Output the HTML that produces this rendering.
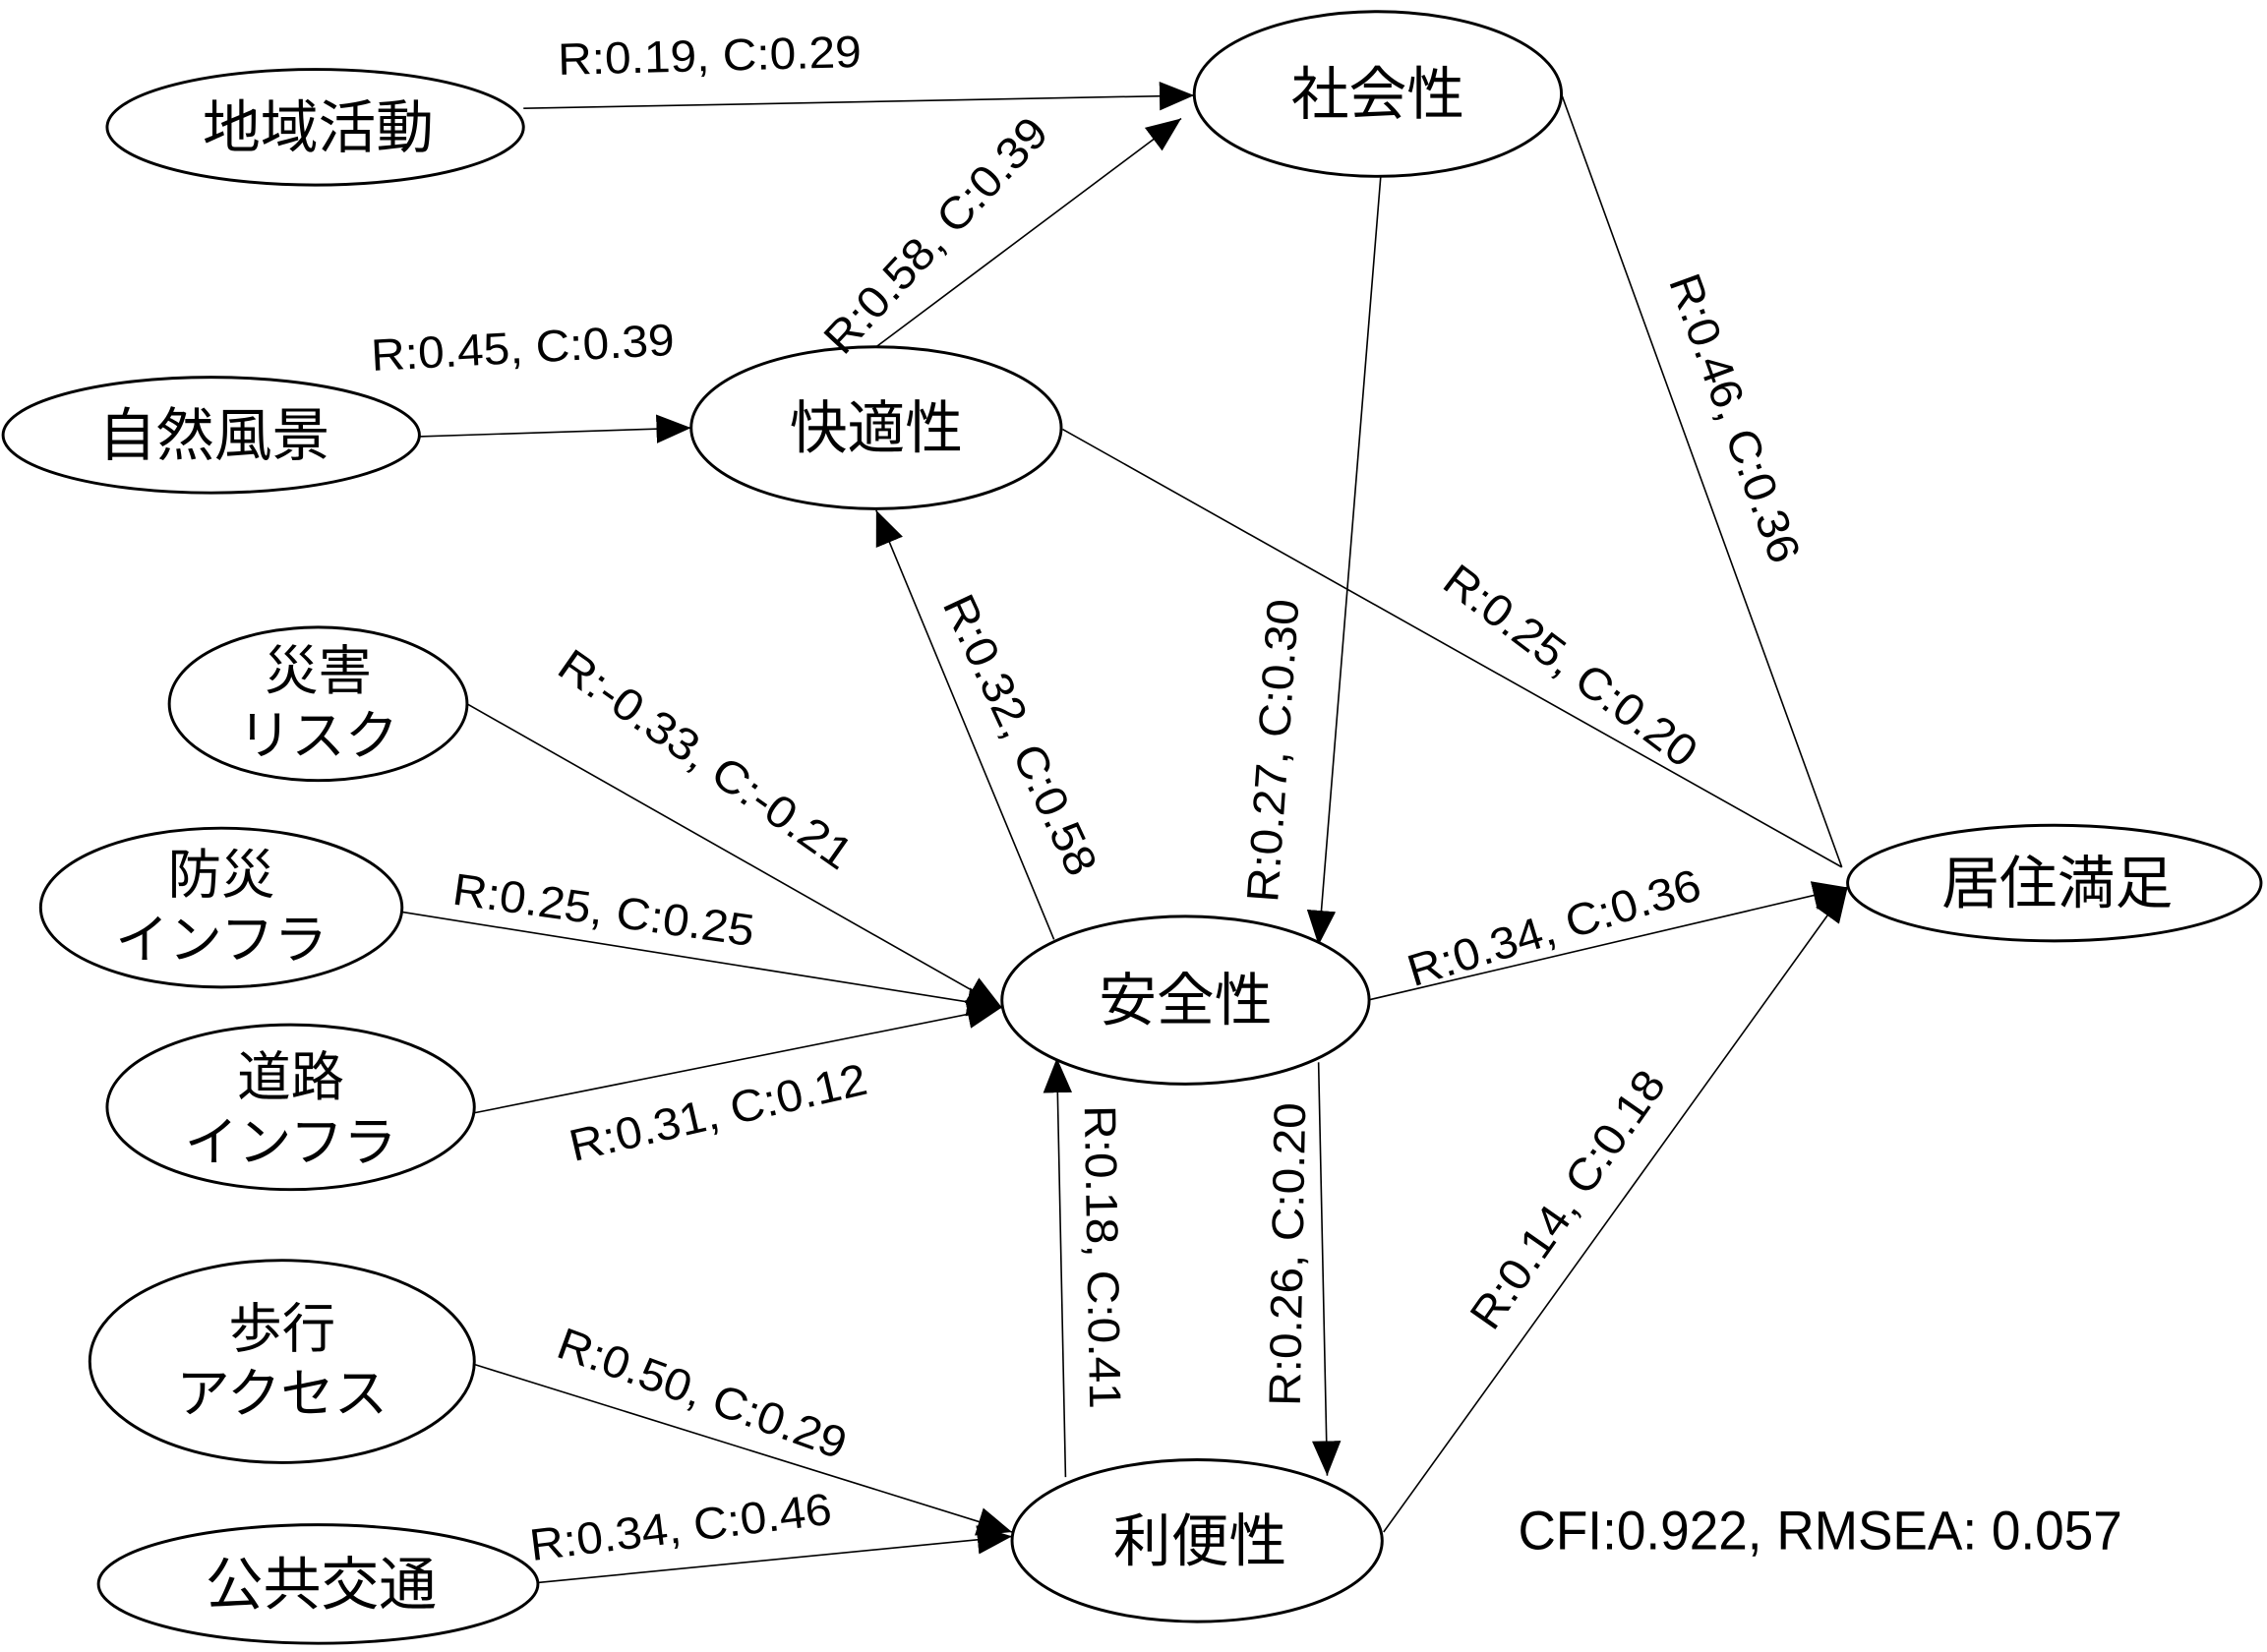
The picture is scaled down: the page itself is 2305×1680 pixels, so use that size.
<!DOCTYPE html>
<html><head><meta charset="utf-8"><style>
html,body{margin:0;padding:0;background:#fff;}
svg{display:block;}
text{font-family:"Liberation Sans","Noto Sans CJK JP",sans-serif;fill:#000;}
</style></head><body>
<svg width="2305" height="1680" viewBox="0 0 1568 1143" xmlns="http://www.w3.org/2000/svg">
<defs>
<marker id="a" markerUnits="userSpaceOnUse" markerWidth="26" markerHeight="20" refX="24" refY="10" orient="auto">
<path d="M0,0 L24,10 L0,20 Z" fill="#000"/>
</marker>
</defs>
<g fill="none" stroke="#000" stroke-width="1.1">
<line x1="362" y1="75" x2="826" y2="66" marker-end="url(#a)"/>
<line x1="606" y1="240" x2="817" y2="82" marker-end="url(#a)"/>
<line x1="290" y1="302" x2="478" y2="296" marker-end="url(#a)"/>
<line x1="955" y1="122" x2="912" y2="654" marker-end="url(#a)"/>
<line x1="1080" y1="65" x2="1274" y2="600"/>
<line x1="735" y1="297" x2="1274" y2="600"/>
<line x1="729" y1="650" x2="606" y2="353" marker-end="url(#a)"/>
<line x1="323" y1="487" x2="693" y2="697" marker-end="url(#a)"/>
<line x1="278" y1="631" x2="693" y2="697" marker-end="url(#a)"/>
<line x1="328" y1="770" x2="693" y2="697" marker-end="url(#a)"/>
<line x1="946" y1="692" x2="1278" y2="614" marker-end="url(#a)"/>
<line x1="912" y1="735" x2="918" y2="1021" marker-end="url(#a)"/>
<line x1="737" y1="1022" x2="731" y2="732" marker-end="url(#a)"/>
<line x1="957" y1="1060" x2="1278" y2="614" marker-end="url(#a)"/>
<line x1="328" y1="944" x2="700" y2="1060" marker-end="url(#a)"/>
<line x1="372" y1="1095" x2="700" y2="1063" marker-end="url(#a)"/>
</g>
<g fill="#fff" stroke="#000" stroke-width="2">
<ellipse cx="218" cy="88" rx="144" ry="40"/>
<ellipse cx="953" cy="65" rx="127" ry="57"/>
<ellipse cx="146" cy="301" rx="144" ry="40"/>
<ellipse cx="606" cy="296" rx="128" ry="56"/>
<ellipse cx="220" cy="487" rx="103" ry="53"/>
<ellipse cx="153" cy="628" rx="125" ry="55"/>
<ellipse cx="201" cy="766" rx="127" ry="57"/>
<ellipse cx="820" cy="692" rx="127" ry="58"/>
<ellipse cx="1421" cy="611" rx="143" ry="40"/>
<ellipse cx="195" cy="942" rx="133" ry="70"/>
<ellipse cx="220" cy="1096" rx="152" ry="41"/>
<ellipse cx="828" cy="1066" rx="128" ry="56"/>
</g>
<g font-size="40" text-anchor="middle">
<text x="220" y="102">地域活動</text>
<text x="953" y="79">社会性</text>
<text x="148" y="315">自然風景</text>
<text x="606" y="310">快適性</text>
<text x="820" y="706">安全性</text>
<text x="1423" y="625">居住満足</text>
<text x="222" y="1110">公共交通</text>
<text x="830" y="1080">利便性</text>
</g>
<g font-size="37" text-anchor="middle">
<text x="220" y="477">災害</text><text x="220" y="522">リスク</text>
<text x="153" y="618">防災</text><text x="153" y="663">インフラ</text>
<text x="201" y="758">道路</text><text x="201" y="803">インフラ</text>
<text x="195" y="932">歩行</text><text x="195" y="977">アクセス</text>
</g>
<g font-size="31" text-anchor="middle">
<text transform="translate(491,49) rotate(-1.5)" textLength="210" lengthAdjust="spacingAndGlyphs">R:0.19, C:0.29</text>
<text transform="translate(655,170) rotate(-47)" textLength="210" lengthAdjust="spacingAndGlyphs">R:0.58, C:0.39</text>
<text transform="translate(362,251) rotate(-3)" textLength="210" lengthAdjust="spacingAndGlyphs">R:0.45, C:0.39</text>
<text transform="translate(482,534) rotate(35)" textLength="240" lengthAdjust="spacingAndGlyphs">R:-0.33, C:-0.21</text>
<text transform="translate(696,513) rotate(65)" textLength="210" lengthAdjust="spacingAndGlyphs">R:0.32, C:0.58</text>
<text transform="translate(891,520) rotate(-86)" textLength="210" lengthAdjust="spacingAndGlyphs">R:0.27, C:0.30</text>
<text transform="translate(1080,469) rotate(37)" textLength="210" lengthAdjust="spacingAndGlyphs">R:0.25, C:0.20</text>
<text transform="translate(1190,293) rotate(70)" textLength="210" lengthAdjust="spacingAndGlyphs">R:0.46, C:0.36</text>
<text transform="translate(416,640) rotate(8)" textLength="210" lengthAdjust="spacingAndGlyphs">R:0.25, C:0.25</text>
<text transform="translate(1078,652) rotate(-17)" textLength="210" lengthAdjust="spacingAndGlyphs">R:0.34, C:0.36</text>
<text transform="translate(499,780) rotate(-13)" textLength="210" lengthAdjust="spacingAndGlyphs">R:0.31, C:0.12</text>
<text transform="translate(752,870) rotate(89)" textLength="210" lengthAdjust="spacingAndGlyphs">R:0.18, C:0.41</text>
<text transform="translate(901,868) rotate(-89)" textLength="210" lengthAdjust="spacingAndGlyphs">R:0.26, C:0.20</text>
<text transform="translate(1093,836) rotate(-55)" textLength="210" lengthAdjust="spacingAndGlyphs">R:0.14, C:0.18</text>
<text transform="translate(482,974) rotate(20)" textLength="210" lengthAdjust="spacingAndGlyphs">R:0.50, C:0.29</text>
<text transform="translate(472,1067) rotate(-7)" textLength="210" lengthAdjust="spacingAndGlyphs">R:0.34, C:0.46</text>
</g>
<text x="1050" y="1072" font-size="38" textLength="418" lengthAdjust="spacingAndGlyphs">CFI:0.922, RMSEA: 0.057</text>
</svg>
</body></html>
